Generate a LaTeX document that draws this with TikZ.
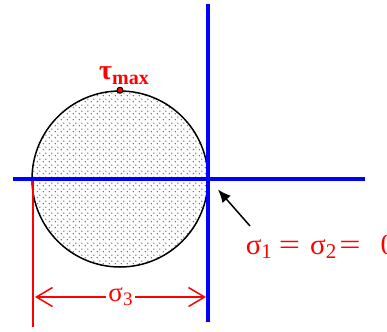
\documentclass[tikz,border=0pt]{standalone}
\usepackage{fontspec}
\setmainfont{Liberation Serif}
\usetikzlibrary{patterns,arrows.meta}
\definecolor{axisblue}{RGB}{0,0,255}
\definecolor{labelred}{RGB}{255,0,0}
\newcommand{\lowsub}[2]{\raisebox{-0.35ex}{\fontsize{#1}{#1}\selectfont #2}}
\newcommand{\wideeq}{\scalebox{1.3}[1]{=}}
\pgfdeclarepatternformonly{sparse dots}{\pgfqpoint{0pt}{0pt}}{\pgfqpoint{6pt}{6pt}}{\pgfqpoint{6pt}{6pt}}{%
  \pgfpathcircle{\pgfqpoint{1.5pt}{1.5pt}}{0.75pt}
  \pgfpathcircle{\pgfqpoint{4.5pt}{4.5pt}}{0.75pt}
  \pgfusepath{fill}}
\begin{document}
\begin{tikzpicture}[x=1pt,y=-1pt,line width=1.5,
  axis/.style={draw=axisblue,line width=3.5},
  dimline/.style={draw=labelred,line width=1.5},
  redlabel/.style={text=labelred,inner sep=1,font=\fontsize{29}{30}\selectfont}]
\useasboundingbox (0,0) rectangle (387,331);
\clip (0,0) rectangle (387,331);
% circle
\node[circle,draw,line width=1.5,pattern=sparse dots,pattern color=black!75,minimum size=176,inner sep=0] (circ) at (120,179) {};
\coordinate (o) at (circ.east);
% axes
\coordinate (hl) at (13,179);
\coordinate (hr) at (365,179);
\coordinate (vt) at (208,4);
\coordinate (vb) at (208,322);
\coordinate (lt) at (33,179);
\coordinate (lb) at (33,327);
\draw[dimline] (lt) -- (lb);
\draw[axis] (hl) -- (hr);
\draw[axis] (vt) -- (vb);
% sigma_3
\coordinate (da) at (35,297);
\coordinate (db) at (206,297);
\draw[dimline,{Straight Barb[length=16,width=19]}-{Straight Barb[length=16,width=19]}] (da) -- (db)
  node[midway,fill=white,redlabel,font=\fontsize{27}{28}\selectfont,inner sep=2] (s3) {σ\lowsub{19}{3}};
% tau_max
\node[circle,fill=labelred,draw=black,line width=1,inner sep=0,minimum size=6] (top) at (circ.north) {};
\node[redlabel,anchor=base,font=\bfseries\fontsize{28}{28}\selectfont] (tau) at (124,80) {τ\lowsub{20}{max}};
% principal stresses
\coordinate (tail) at (250,226);
\draw[-{Latex[length=13,width=11]},line width=1.5,shorten >=14] (tail) -- (o);
\node[redlabel,anchor=base west] (s12) at (244,254) {σ\lowsub{21}{1}\hspace{7pt}\wideeq\hspace{10pt}σ\lowsub{21}{2}\hspace{3pt}\wideeq\hspace{20pt}0};
\end{tikzpicture}
\end{document}
